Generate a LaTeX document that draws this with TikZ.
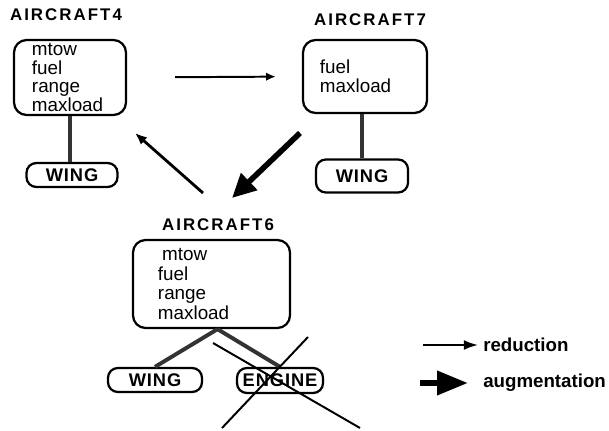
\documentclass[tikz,border=0pt]{standalone}
\usepackage{fontspec}
\setmainfont{Liberation Sans}
\newfontfamily\spacedfont[LetterSpace=12]{Liberation Sans}
\newfontfamily\partfont[LetterSpace=5]{Liberation Sans}
\usetikzlibrary{arrows.meta}
\tikzset{
  base/.style={draw, line width=1.6pt, inner sep=0pt},
  frame/.style={base, rounded corners=9pt, align=left,
                font=\fontsize{13.4}{13.5}\selectfont},
  part/.style={base, rounded corners=7pt, minimum height=0.6cm,
               font=\partfont\bfseries\fontsize{13}{13}\selectfont},
  title/.style={font=\spacedfont\bfseries\fontsize{12}{12}\selectfont},
  legend/.style={anchor=west, inner sep=0pt, font=\bfseries\fontsize{13.3}{13.3}\selectfont},
  link/.style={line width=2.8pt, black!80},
  redarr/.style={-{Latex[length=7pt, width=6pt]}, line width=1.4pt},
  augarr/.style={-{Triangle[length=17pt, width=16pt]}, line width=4pt},
  cross/.style={line width=1.4pt},
}

\begin{document}
\begin{tikzpicture}[x=0.025cm, y=-0.025cm]
  \useasboundingbox (0,0) rectangle (609,431);

  % aircraft 4
  \node[title] (a4title) at (66,15) {AIRCRAFT4};
  \node[frame, minimum width=2.8cm, minimum height=1.875cm, text width=1.9cm] (a4) at (70,77.5) {mtow\\fuel\\range\\maxload};
  \node[part, minimum width=2.275cm] (a4wing) at (72,175) {WING};
  \draw[link] (a4.south) -- (a4.south |- a4wing.north);

  % aircraft 7
  \node[title] (a7title) at (370,20) {AIRCRAFT7};
  \node[frame, minimum width=3.1cm, minimum height=1.825cm, text width=2.25cm] (a7) at (365,76.5) {fuel\\maxload};
  \node[part, minimum width=2.3cm, minimum height=0.825cm] (a7wing) at (362,176) {WING};
  \draw[link] (a7wing.north |- a7.south) -- (a7wing.north);

  % aircraft 6
  \node[title] (a6title) at (218,225) {AIRCRAFT6};
  \node[frame, minimum width=3.925cm, minimum height=2.2cm, text width=2.675cm,
        font=\fontsize{13.4}{14.2}\selectfont] (a6) at (211.5,284) {\hspace{3pt}mtow\\fuel\\range\\maxload};
  \node[part, minimum width=2.35cm] (a6wing) at (155,380) {WING};
  \node[part, minimum width=2.15cm, minimum height=0.625cm] (engine) at (280,380.5) {ENGINE};
  \draw[link] ([xshift=0.15cm]a6.south) -- (a6wing.north);
  \draw[link] ([xshift=0.15cm]a6.south) -- (engine.north);

  % engine struck out
  \coordinate (x1a) at (213,343);
  \coordinate (x1b) at (360,428);
  \coordinate (x2a) at (308,337);
  \coordinate (x2b) at (222,428);
  \draw[cross] (x1a) -- (x1b);
  \draw[cross] (x2a) -- (x2b);

  % transitions
  \coordinate (red2a) at (203,193);
  \coordinate (red2b) at (135,133);
  \coordinate (aug1a) at (300,133);
  \coordinate (aug1b) at (232,198);
  \draw[redarr, shorten <=1.2cm, shorten >=0.65cm] (a4.east) -- (a7.west);
  \draw[redarr, -{Latex[length=8.5pt, width=7pt]}, line width=2pt] (red2a) -- (red2b);
  \draw[augarr] (aug1a) -- (aug1b);

  % legend
  \node[legend] (redtext) at (483,345) {reduction};
  \node[legend] (augtext) at (483,383) {augmentation};
  \coordinate (redtail) at (423,345);
  \coordinate (augtail) at (420,383);
  \draw[redarr, -{Latex[length=10pt, width=7pt]}] (redtail) -- ([xshift=-0.125cm]redtext.west);
  \draw[augarr, -{Triangle[length=22pt, width=16.5pt]}, line width=4.3pt] (augtail) -- ([xshift=-0.375cm]augtext.west);
\end{tikzpicture}
\end{document}
